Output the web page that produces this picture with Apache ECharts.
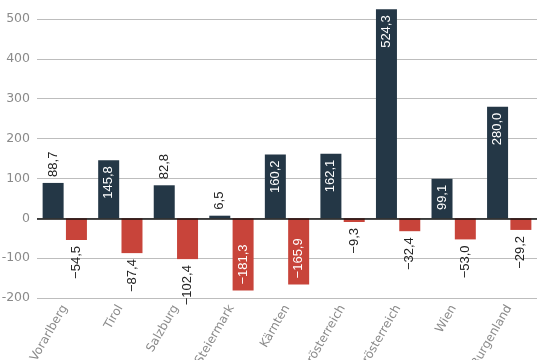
<!DOCTYPE html>
<html>
<head>
<meta charset="utf-8">
<script src="https://cdn.jsdelivr.net/npm/echarts@6/dist/echarts.min.js"></script>
<style>html,body{margin:0;padding:0;background:#fff}#c{width:540px;height:360px}</style>
</head>
<body>
<div id="c"></div>
<script>
const categories = ["Vorarlberg", "Tirol", "Salzburg", "Steiermark", "Kärnten", "Oberösterreich", "Niederösterreich", "Wien", "Burgenland"];
const positiveValues = [88.7, 145.8, 82.8, 6.5, 160.2, 162.1, 524.3, 99.1, 280.0];
const negativeValues = [-54.5, -87.4, -102.4, -181.3, -165.9, -9.3, -32.4, -53.0, -29.2];
const yTicks = [-200, -100, 0, 100, 200, 300, 400, 500];

const PX_PER_UNIT = 279 / 700;
function fmt(v) {
  const s = Math.abs(v).toFixed(1).replace('.', ',');
  return (v < 0 ? '\u2212' : '') + s;
}
function textW(v) {
  const s = fmt(v);
  let w = 0;
  for (const ch of s) w += (ch === ',' ? 3.3 : ch === '\u2212' ? 7 : 6.7);
  return w;
}
function labelFor(v) {
  const inside = Math.abs(v) >= 95 && Math.abs(v) * PX_PER_UNIT >= textW(v) + 8;
  if (v >= 0) {
    return inside
      ? { position: 'insideTop', align: 'right', verticalAlign: 'middle', color: '#fff', distance: 6 }
      : { position: 'top', align: 'left', verticalAlign: 'middle', color: '#222', distance: 6 };
  } else {
    return inside
      ? { position: 'insideBottom', align: 'left', verticalAlign: 'middle', color: '#fff', distance: 6 }
      : { position: 'bottom', align: 'right', verticalAlign: 'middle', color: '#222', distance: 6 };
  }
}
function mkData(arr) {
  return arr.map(v => ({ value: v, label: labelFor(v) }));
}
const baseLabel = {
  show: true, rotate: 90, fontFamily: 'Liberation Sans, Arial, sans-serif', fontSize: 13,
  formatter: p => fmt(p.value)
};

const chart = echarts.init(document.getElementById('c'), null, { renderer: 'canvas' });
chart.setOption({
  animation: false,
  grid: { left: 37, right: 3, top: 19, bottom: 62, containLabel: false, outerBoundsMode: 'none' },
  xAxis: {
    type: 'category', data: categories,
    axisLine: { show: false }, axisTick: { show: false },
    axisLabel: { rotate: 60, color: '#8a8a8a', fontFamily: 'DejaVu Sans', fontSize: 12, margin: 8, interval: 0, hideOverlap: false }
  },
  yAxis: {
    type: 'value', min: yTicks[0], max: yTicks[yTicks.length - 1], interval: 100,
    axisLine: { show: false }, axisTick: { show: false },
    axisLabel: { color: '#8a8a8a', fontFamily: 'DejaVu Sans', fontSize: 12.5, margin: 7,
      formatter: v => String(v) },
    splitLine: { lineStyle: { color: '#bdbdbd', width: 1 } }
  },
  series: [
    {
      type: 'bar', data: mkData(positiveValues), barWidth: 21, barGap: '11%', clip: false,
      itemStyle: { color: '#243746' }, label: baseLabel,
      markLine: { silent: true, symbol: 'none', label: { show: false }, z: 10,
        lineStyle: { color: '#111', width: 1.5, type: 'solid' }, data: [{ yAxis: 0 }] }
    },
    {
      type: 'bar', data: mkData(negativeValues), barWidth: 21, clip: false,
      itemStyle: { color: '#c8443a' }, label: baseLabel
    }
  ]
});
</script>
</body>
</html>
